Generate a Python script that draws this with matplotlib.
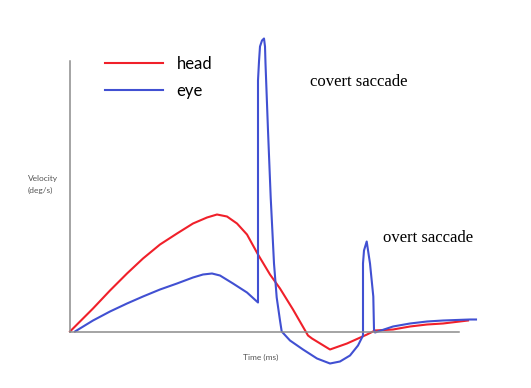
import matplotlib
matplotlib.use("Agg")
import matplotlib.pyplot as plt

# velocity traces (time in ms, velocity in deg/s, arbitrary scale)
head_t = [0, 23, 40, 57, 73, 90, 107, 123, 137, 147, 157, 167, 177, 188, 200, 210, 223, 238, 242,
          260, 277, 297, 305, 323, 340, 357, 373, 398]
head_v = [0, 23, 41, 58, 73, 87, 98, 108, 114, 117, 115, 108, 97, 77, 57, 43, 22, -4, -7,
          -18, -12, -3, 1, 2, 5, 7, 8, 11]

eye_t = [5, 23, 40, 57, 73, 90, 107, 123, 133, 142, 150, 163, 177, 188,
         188, 189, 190, 192, 194, 195, 195.5, 198, 200.7, 204, 206.7, 210, 211.7,
         220, 233, 247, 260, 270, 280, 288, 293,
         293, 294, 296.7, 300, 303.3, 304, 305,
         323, 340, 357, 373, 400, 406]
eye_v = [0, 11, 20, 28, 35, 42, 48, 54, 57, 58, 56, 48, 39, 29,
         251, 270, 285, 291, 293, 285, 268, 201, 134, 68, 34, 11, 0,
         -9, -18, -27, -32, -30, -24, -14, -4,
         68, 81, 90, 68, 35, 2, -1,
         5, 8, 10, 11, 12, 12]

series_labels = ["head", "eye"]
annotations = ["covert saccade", "overt saccade"]
x_label = "Time (ms)"
y_label = "Velocity\n(deg/s)"

red = "#f0202a"
blue = "#4150d2"
grey = "#8c8c8c"

fig = plt.figure(figsize=(5.31, 3.88), dpi=100)
ax = fig.add_axes([0, 0, 1, 1])
ax.set_xlim(-70, 461)
ax.set_ylim(-56.5, 331.5)

ax.plot(head_t, head_v, color=red, lw=1.5, label=series_labels[0], solid_joinstyle="round")
ax.plot(eye_t, eye_v, color=blue, lw=1.5, label=series_labels[1], solid_joinstyle="round")

# axis lines only, no ticks
ax.spines["top"].set_visible(False)
ax.spines["right"].set_visible(False)
ax.spines["left"].set_position(("data", 0))
ax.spines["bottom"].set_position(("data", 0))
ax.spines["left"].set_bounds(0, 271)
ax.spines["bottom"].set_bounds(0, 389)
for s in ("left", "bottom"):
    ax.spines[s].set_color(grey)
    ax.spines[s].set_linewidth(1.1)
ax.set_xticks([])
ax.set_yticks([])
ax.patch.set_alpha(0)

ax.text(240, 249, annotations[0], family="Liberation Serif", fontsize=12, ha="left", va="center")
ax.text(313, 93, annotations[1], family="Liberation Serif", fontsize=12, ha="left", va="center")

ax.text(173, -26, x_label, family="Lato", fontsize=6, color="#555555", ha="left", va="center")
ax.text(-42, 147, y_label, family="Lato", fontsize=6, color="#555555", ha="left", va="center",
        linespacing=1.9)

leg = ax.legend(loc="upper left", bbox_to_anchor=(105 / 531, 1 - 56 / 388), frameon=False,
                prop={"family": "Lato", "size": 12}, handlelength=3.5, handletextpad=0.8,
                labelspacing=0.65, borderaxespad=0, borderpad=0)

fig.savefig("out.png", dpi=100)
